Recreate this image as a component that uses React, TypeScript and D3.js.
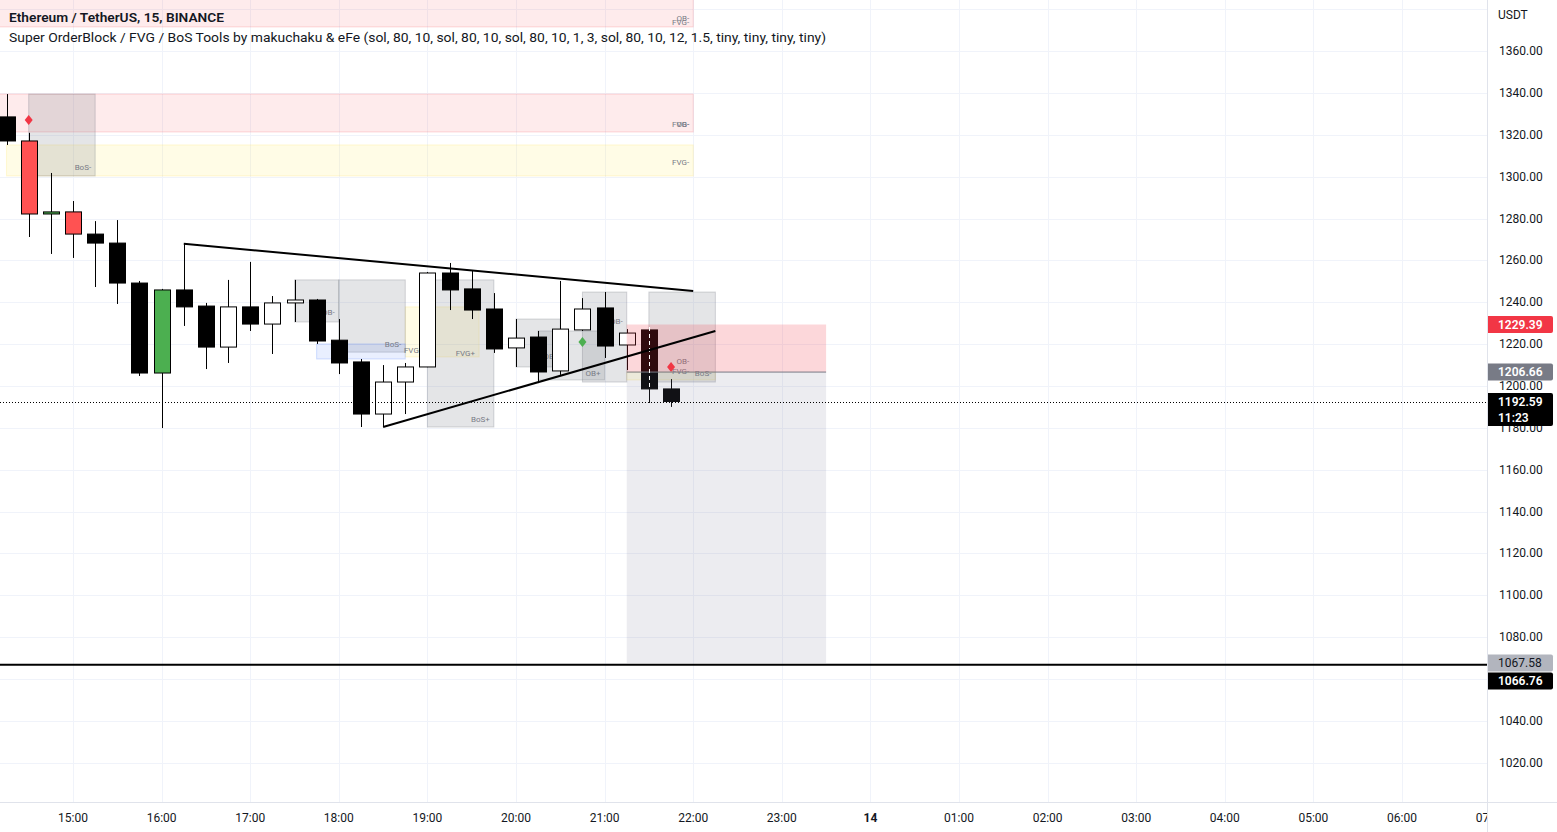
import React, { useEffect } from 'react';
import * as d3 from 'd3';

const W = 1557;
const H = 832;
const PLOT_R = 1487;
const PLOT_B = 802;

// ---- data ----
const title = 'Ethereum / TetherUS, 15, BINANCE';
const indicatorLegend =
  'Super OrderBlock / FVG / BoS Tools by makuchaku & eFe (sol, 80, 10, sol, 80, 10, sol, 80, 10, 1, 3, sol, 80, 10, 12, 1.5, tiny, tiny, tiny, tiny)';
const currency = 'USDT';

const candleTimes = [
  '14:15', '14:30', '14:45', '15:00', '15:15', '15:30', '15:45', '16:00',
  '16:15', '16:30', '16:45', '17:00', '17:15', '17:30', '17:45', '18:00',
  '18:15', '18:30', '18:45', '19:00', '19:15', '19:30', '19:45', '20:00',
  '20:15', '20:30', '20:45', '21:00', '21:15', '21:30', '21:45',
];
const opens = [
  1328.6, 1317.1, 1282.2, 1283.2, 1272.6, 1268.3, 1249.2, 1206.2,
  1245.9, 1238.2, 1218.6, 1237.8, 1229.6, 1239.7, 1241.1, 1221.9,
  1211.5, 1186.6, 1201.9, 1209.1, 1254.0, 1246.4, 1236.8, 1218.2,
  1223.4, 1207.2, 1226.8, 1237.3, 1219.6, 1226.8, 1198.6,
];
const highs = [
  1339.5, 1321.0, 1301.8, 1288.4, 1278.8, 1279.3, 1250.2, 1246.4,
  1267.9, 1239.7, 1250.7, 1259.3, 1243.0, 1250.7, 1241.6, 1232.0,
  1212.9, 1210.0, 1211.0, 1254.5, 1258.8, 1255.4, 1244.4, 1232.0,
  1226.3, 1250.2, 1242.0, 1244.9, 1227.2, 1228.2, 1203.3,
];
const lows = [
  1315.2, 1271.2, 1263.1, 1261.2, 1247.3, 1239.2, 1204.8, 1179.9,
  1228.7, 1208.1, 1211.0, 1226.3, 1215.3, 1230.6, 1220.1, 1205.7,
  1180.4, 1180.4, 1186.6, 1209.0, 1236.3, 1232.0, 1215.8, 1209.1,
  1201.4, 1205.3, 1226.3, 1213.4, 1207.6, 1191.9, 1190.0,
];
const closes = [
  1317.1, 1282.2, 1283.2, 1272.6, 1268.3, 1249.2, 1206.2, 1245.9,
  1237.8, 1218.6, 1237.8, 1229.6, 1239.7, 1241.1, 1221.5, 1211.0,
  1186.6, 1201.9, 1209.1, 1254.0, 1245.9, 1236.3, 1217.7, 1222.9,
  1206.7, 1227.2, 1236.8, 1219.1, 1225.3, 1198.6, 1192.59,
];
// candles flagged by the indicator (coloured red / green)
const flagged = [
  false, true, true, true, false, false, false, true,
  false, false, false, false, false, false, false, false,
  false, false, false, false, false, false, false, false,
  false, false, false, false, false, false, false,
];

const priceTicks = [1020, 1040, 1060, 1080, 1100, 1120, 1140, 1160, 1180, 1200,
  1220, 1240, 1260, 1280, 1300, 1320, 1340, 1360];
const priceGrid = [...priceTicks, 1380];

// zones: [from, to, top, bottom]
const bearZones: [string, string, number, number][] = [
  ['14:00', '22:00', 1395, 1371.6],
  ['14:00', '22:00', 1339.5, 1321.4],
];
const fvgZones: [string, string, number, number][] = [
  ['14:15', '22:00', 1315.2, 1300.4],
  ['18:45', '19:35', 1237.8, 1213.9],
  ['21:15', '22:15', 1206.66, 1202.9],
];
const grayZones: [string, string, number, number][] = [
  ['14:30', '15:15', 1339.5, 1300.4],
  ['17:30', '18:00', 1250.7, 1230.6],
  ['18:00', '18:45', 1250.7, 1216.2],
  ['19:00', '19:45', 1250.7, 1180.4],
  ['20:00', '20:30', 1232.0, 1209.1],
  ['20:15', '21:00', 1226.3, 1202.9],
  ['20:45', '21:15', 1244.9, 1201.9],
  ['21:30', '22:15', 1244.9, 1201.9],
];
const blueZones: [string, string, number, number][] = [
  ['17:45', '18:45', 1220.1, 1212.9],
];
// zone labels: [end time, price, text]
const zoneLabels: [string, number, string][] = [
  ['22:00', 1375.4, 'OB-'], ['22:00', 1373.5, 'FVG-'],
  ['22:00', 1325.2, 'FVG-'], ['22:00', 1325.2, 'OB-'],
  ['22:00', 1306.6, 'FVG-'],
  ['15:15', 1304.2, 'BoS-'],
  ['18:00', 1234.9, 'OB-'],
  ['18:45', 1219.6, 'BoS-'],
  ['19:00', 1217.2, 'FVG+'],
  ['19:35', 1215.3, 'FVG+'],
  ['19:45', 1184.2, 'BoS+'],
  ['20:30', 1213.9, 'OB-'],
  ['21:00', 1206.2, 'OB+'],
  ['21:15', 1230.6, 'OB-'],
  ['22:00', 1211.5, 'OB-'],
  ['22:00', 1206.7, 'FVG-'],
  ['22:15', 1206.2, 'BoS-'],
];
const signals: [string, number, 'bull' | 'bear'][] = [
  ['14:30', 1327.1, 'bear'],
  ['20:45', 1221.0, 'bull'],
  ['21:45', 1209.1, 'bear'],
];
const trendLines: [string, number, string, number][] = [
  ['16:15', 1268.0, '22:00', 1245.4],
  ['18:30', 1180.4, '22:15', 1226.3],
];
const position = { from: '21:15', to: '23:30', stop: 1229.39, entry: 1206.66, target: 1067.58 };
const horizontalLevel = 1066.76;
const lastPrice = 1192.59;
const countdown = '11:23';

// ---- helpers ----
const T = (s: string) => {
  const [h, m] = s.split(':').map(Number);
  return new Date(Date.UTC(2022, 10, 13, h, m));
};

const FONT = 'Roboto, "Noto Sans", sans-serif';

export default function App() {
  useEffect(() => {
    document.body.style.margin = '0';
  }, []);

  const x = d3.scaleUtc()
    .domain([T('15:00'), new Date(Date.UTC(2022, 10, 14, 6, 0))])
    .range([73, 1402]);
  const y = d3.scaleLinear().domain([1200, 1360]).range([386, 51.2]);

  const hourTicks = d3.utcHour.range(x.invert(0), x.invert(1500));
  const fmtTick = (d: Date) => (d.getUTCHours() === 0 ? d3.utcFormat('%-d')(d) : d3.utcFormat('%H:%M')(d));

  const bodyW = 16;

  const zoneRect = (z: [string, string, number, number], fill: string, stroke: string, key: string) => (
    <rect key={key} x={x(T(z[0]))} y={y(z[2])} width={x(T(z[1])) - x(T(z[0]))}
      height={y(z[3]) - y(z[2])} fill={fill} stroke={stroke} strokeWidth={1} />
  );

  // price tags with simple collision resolving
  type Tag = { price: number; bg: string; fg: string; lines: string[]; weight: number };
  const tags: Tag[] = [
    { price: position.stop, bg: '#f23645', fg: '#ffffff', lines: [position.stop.toFixed(2)], weight: 600 },
    { price: position.entry, bg: '#787b86', fg: '#ffffff', lines: [position.entry.toFixed(2)], weight: 600 },
    { price: lastPrice, bg: '#000000', fg: '#ffffff', lines: [lastPrice.toFixed(2), countdown], weight: 600 },
    { price: position.target, bg: '#b2b5be', fg: '#131722', lines: [position.target.toFixed(2)], weight: 400 },
    { price: horizontalLevel, bg: '#000000', fg: '#ffffff', lines: [horizontalLevel.toFixed(2)], weight: 600 },
  ];
  const placed: { tag: Tag; top: number; h: number }[] = [];
  tags
    .slice()
    .sort((a, b) => b.price - a.price)
    .forEach((t) => {
      const h = t.lines.length === 1 ? 17 : 33;
      let top = y(t.price) - 8.5;
      const prev = placed[placed.length - 1];
      if (prev && top < prev.top + prev.h + 1) top = prev.top + prev.h + 1;
      placed.push({ tag: t, top, h });
    });

  const pt = position;
  const diamond = (cx: number, cy: number) => `M${cx},${cy - 5}L${cx + 4},${cy}L${cx},${cy + 5}L${cx - 4},${cy}Z`;

  return (
    <svg width={W} height={H} style={{ display: 'block', background: '#fff' }} fontFamily={FONT}>
      <defs>
        <clipPath id="plot">
          <rect x={0} y={0} width={PLOT_R} height={PLOT_B} />
        </clipPath>
      </defs>
      <rect x={0} y={0} width={W} height={H} fill="#ffffff" />
      <g clipPath="url(#plot)">
        {/* grid */}
        {priceGrid.map((p) => (
          <line key={'hg' + p} x1={0} x2={PLOT_R} y1={Math.round(y(p)) + 0.5} y2={Math.round(y(p)) + 0.5} stroke="#f0f3fa" />
        ))}
        {hourTicks.map((t) => (
          <line key={'vg' + t.getTime()} x1={Math.round(x(t)) + 0.5} x2={Math.round(x(t)) + 0.5} y1={0} y2={PLOT_B} stroke="#f0f3fa" />
        ))}

        {/* indicator zones */}
        {bearZones.map((z, i) => zoneRect(z, 'rgba(242,54,69,0.1)', 'rgba(242,54,69,0.18)', 'bz' + i))}
        {fvgZones.map((z, i) => zoneRect(z, 'rgba(255,235,59,0.13)', 'rgba(255,220,59,0.2)', 'fz' + i))}
        {grayZones.map((z, i) => zoneRect(z, 'rgba(120,123,134,0.2)', 'rgba(120,123,134,0.3)', 'gz' + i))}
        {blueZones.map((z, i) => zoneRect(z, 'rgba(41,98,255,0.1)', 'rgba(41,98,255,0.2)', 'blz' + i))}
        {zoneLabels.map((l, i) => (
          <text key={'zl' + i} x={x(T(l[0])) - 4} y={y(l[1])} textAnchor="end" dominantBaseline="central"
            fontSize={8} fill="#787b86">{l[2]}</text>
        ))}

        {/* candles */}
        {candleTimes.map((t, i) => {
          const cx = Math.round(x(T(t))) + 0.5;
          const up = closes[i] >= opens[i];
          const fill = flagged[i] ? (up ? '#4caf50' : '#ff5252') : up ? '#ffffff' : '#000000';
          const top = y(Math.max(opens[i], closes[i]));
          const bot = y(Math.min(opens[i], closes[i]));
          return (
            <g key={'c' + i}>
              <line x1={cx} x2={cx} y1={y(highs[i])} y2={y(lows[i])} stroke="#000" strokeWidth={1} />
              <rect x={cx - bodyW / 2} y={top} width={bodyW} height={Math.max(bot - top, 1.5)}
                fill={fill} stroke="#000" strokeWidth={1} />
            </g>
          );
        })}

        {/* signals */}
        {signals.map((s, i) => (
          <path key={'s' + i} d={diamond(x(T(s[0])), y(s[1]))} fill={s[2] === 'bull' ? '#4caf50' : '#f23645'} />
        ))}

        {/* short position tool */}
        <rect x={x(T(pt.from))} y={y(pt.stop)} width={x(T(pt.to)) - x(T(pt.from))} height={y(pt.entry) - y(pt.stop)}
          fill="rgba(242,54,69,0.2)" />
        <rect x={x(T(pt.from))} y={y(pt.entry)} width={x(T(pt.to)) - x(T(pt.from))} height={y(pt.target) - y(pt.entry)}
          fill="rgba(120,123,150,0.14)" />
        <line x1={x(T(pt.from))} x2={x(T(pt.to))} y1={y(pt.entry)} y2={y(pt.entry)} stroke="#787b86" strokeWidth={1} />
        <line x1={Math.round(x(T('21:30'))) + 0.5} x2={Math.round(x(T('21:30'))) + 0.5}
          y1={y(highs[29])} y2={y(closes[29])} stroke="#ffffff" strokeWidth={1} strokeDasharray="4,3" />

        {/* trend lines */}
        {trendLines.map((l, i) => (
          <line key={'tl' + i} x1={x(T(l[0]))} y1={y(l[1])} x2={x(T(l[2]))} y2={y(l[3])} stroke="#000" strokeWidth={2} />
        ))}
        <line x1={0} x2={PLOT_R} y1={y(horizontalLevel)} y2={y(horizontalLevel)} stroke="#000" strokeWidth={2} />
        <line x1={0} x2={PLOT_R} y1={Math.round(y(lastPrice)) + 0.5} y2={Math.round(y(lastPrice)) + 0.5}
          stroke="#000" strokeWidth={1} strokeDasharray="1,2" />

        {/* legend */}
        <text x={9} y={22} fontSize={13} fontWeight={600} fill="#131722" textLength={215} lengthAdjust="spacingAndGlyphs">{title}</text>
        <text x={9} y={42} fontSize={13} fill="#131722" textLength={817} lengthAdjust="spacingAndGlyphs">{indicatorLegend}</text>
      </g>

      {/* time axis */}
      <rect x={0} y={PLOT_B} width={W} height={H - PLOT_B} fill="#ffffff" />
      {hourTicks.map((t) => (
        <text key={'tt' + t.getTime()} x={x(t)} y={822} textAnchor="middle" fontSize={12}
          fontWeight={t.getUTCHours() === 0 ? 700 : 400} fill="#131722">{fmtTick(t)}</text>
      ))}

      {/* price axis */}
      <rect x={PLOT_R} y={0} width={W - PLOT_R} height={H} fill="#ffffff" />
      <line x1={PLOT_R + 0.5} x2={PLOT_R + 0.5} y1={0} y2={H} stroke="#e0e3eb" />
      <line x1={0} x2={W} y1={PLOT_B + 0.5} y2={PLOT_B + 0.5} stroke="#e0e3eb" />
      <text x={1498} y={19} fontSize={12} fill="#131722">{currency}</text>
      {priceTicks.map((p) => (
        <text key={'pt' + p} x={1499} y={y(p)} dominantBaseline="central" fontSize={12} fill="#131722">
          {p.toFixed(2)}
        </text>
      ))}
      {placed.map(({ tag, top, h }, i) => (
        <g key={'tag' + i}>
          <path d={`M${PLOT_R + 1},${top}H${1551}a2,2 0 0 1 2,2V${top + h - 2}a2,2 0 0 1 -2,2H${PLOT_R + 1}Z`} fill={tag.bg} />
          {tag.lines.map((ln, j) => (
            <text key={j} x={1498} y={top + 8.5 + j * 16} dominantBaseline="central" fontSize={12}
              fontWeight={tag.weight} fill={tag.fg}>{ln}</text>
          ))}
        </g>
      ))}
    </svg>
  );
}
